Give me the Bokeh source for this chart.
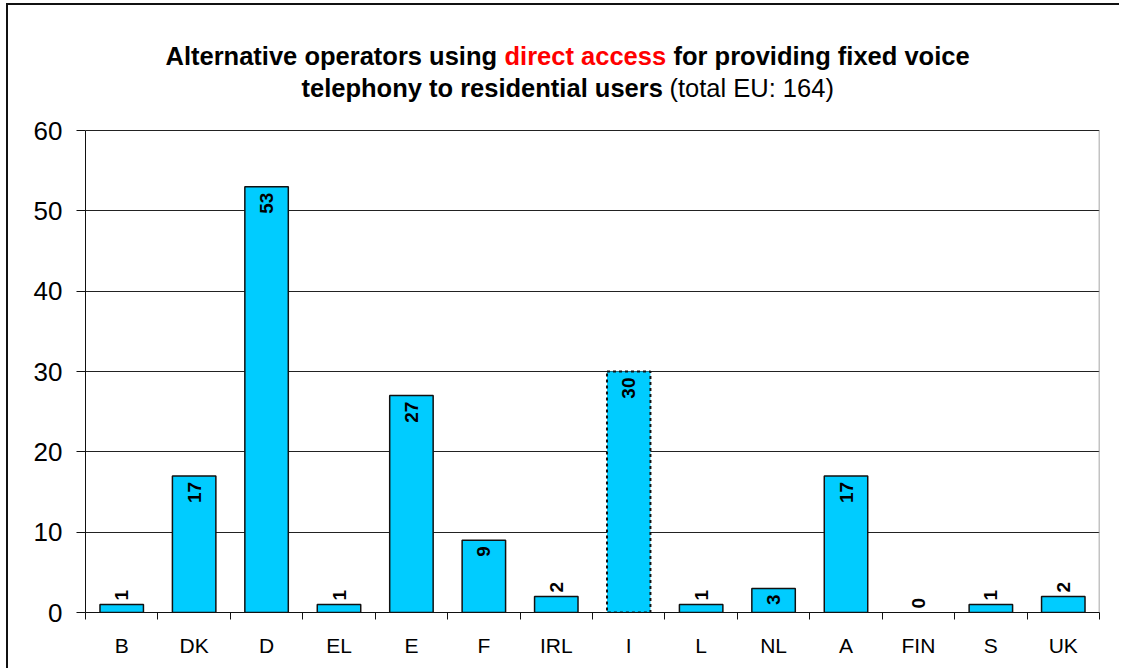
from math import pi
from bokeh.plotting import figure
from bokeh.models import ColumnDataSource, FixedTicker, Label, Range1d
from bokeh.core.properties import value
from bokeh.embed import file_html
from bokeh.resources import INLINE

# ---- data ----
countries = ["B", "DK", "D", "EL", "E", "F", "IRL", "I", "L", "NL", "A", "FIN", "S", "UK"]
operators = [1, 17, 53, 1, 27, 9, 2, 30, 1, 3, 17, 0, 1, 2]
dotted_outline = ["I"]
y_ticks = [0, 10, 20, 30, 40, 50, 60]
title_line1 = [("Alternative operators using ", "black", "bold"),
               ("direct access", "#FF0000", "bold"),
               (" for providing fixed voice", "black", "bold")]
title_line2 = [("telephony to residential users ", "black", "bold"),
               ("(total EU: 164)", "black", "normal")]

# ---- layout (page pixels) ----
FRAME_L, FRAME_R = 85, 1099      # plot area left / right
FRAME_B, Y_MAX_PIX = 612, 130    # y=0 and y=60 rows
FRAME_T = 10                     # top of drawing frame (title lives above y=60)
Y_MAX = y_ticks[-1]
N = len(countries)
px_per_y = (FRAME_B - Y_MAX_PIX) / Y_MAX
y_top = (FRAME_B - FRAME_T) / px_per_y


def dx(px):
    return (px - FRAME_L) / (FRAME_R - FRAME_L) * N


def dy(py):
    return (FRAME_B - py) / px_per_y


centers = [i + 0.5 for i in range(N)]
bounds = list(range(N + 1))

solid = ColumnDataSource(dict(
    x=[c for c, n, v in zip(centers, countries, operators) if n not in dotted_outline and v > 0],
    top=[v for n, v in zip(countries, operators) if n not in dotted_outline and v > 0]))
dotted = ColumnDataSource(dict(
    x=[c for c, n, v in zip(centers, countries, operators) if n in dotted_outline and v > 0],
    top=[v for n, v in zip(countries, operators) if n in dotted_outline and v > 0]))

inside = ColumnDataSource(dict(
    x=[c for c, v in zip(centers, operators) if v >= 3],
    y=[v for v in operators if v >= 3],
    t=[str(v) for v in operators if v >= 3]))
above = ColumnDataSource(dict(
    x=[c for c, v in zip(centers, operators) if v < 3],
    y=[v for v in operators if v < 3],
    t=[str(v) for v in operators if v < 3]))

OFF_X, OFF_Y = 8, 5   # canvas origin on page (after margin + border)
p = figure(width=1113, height=665, x_range=Range1d(0, N), y_range=Range1d(0, y_top),
           output_backend="svg", toolbar_location=None,
           min_border_left=FRAME_L - OFF_X, min_border_right=1113 - (FRAME_R - OFF_X),
           min_border_top=FRAME_T - OFF_Y, min_border_bottom=665 - (FRAME_B - OFF_Y))
p.styles = {"border-left": "2px solid #111", "border-top": "2px solid #111",
            "margin-left": "6px", "margin-top": "3px"}

BAR = "#00CCFF"
p.vbar(x="x", top="top", bottom=0, width=0.6, source=solid, fill_color=BAR,
       line_color="#111", line_width=1.5)
p.vbar(x="x", top="top", bottom=0, width=0.6, source=dotted, fill_color=BAR,
       line_color="#111", line_width=2, line_dash="3 3")

p.text(x="x", y="y", text="t", source=inside, angle=pi / 2, text_align="right",
       text_baseline="middle", y_offset=6, text_font=value("Liberation Sans"),
       text_font_style="bold", text_font_size="19px", text_color="black")
p.text(x="x", y="y", text="t", source=above, angle=pi / 2, text_align="left",
       text_baseline="middle", y_offset=-4, text_font=value("Liberation Sans"),
       text_font_style="bold", text_font_size="19px", text_color="black")

# right edge of the value area
p.segment(x0=[N], y0=[0], x1=[N], y1=[Y_MAX], line_color="#888", line_width=1.5)

# axes
p.outline_line_color = None
p.xgrid.visible = False
p.ygrid.grid_line_color = "#222"
p.ygrid.grid_line_width = 1

p.yaxis.ticker = FixedTicker(ticks=y_ticks)
p.yaxis.bounds = (0, Y_MAX)
p.yaxis.axis_line_color = "#111"
p.yaxis.major_tick_in = 0
p.yaxis.major_tick_out = 9
p.yaxis.major_tick_line_color = "#111"
p.yaxis.minor_tick_line_color = None
p.yaxis.major_label_text_font = "Liberation Sans"
p.yaxis.major_label_text_font_size = "26px"
p.yaxis.major_label_text_color = "black"
p.yaxis.major_label_standoff = 14

p.xaxis.ticker = FixedTicker(ticks=centers, minor_ticks=bounds)
p.xaxis.major_label_overrides = {c: n for c, n in zip(centers, countries)}
p.xaxis.axis_line_color = "#111"
p.xaxis.major_tick_in = 0
p.xaxis.major_tick_out = 0
p.xaxis.minor_tick_in = 0
p.xaxis.minor_tick_out = 7
p.xaxis.minor_tick_line_color = "#111"
p.xaxis.major_label_text_font = "Liberation Sans"
p.xaxis.major_label_text_font_size = "21px"
p.xaxis.major_label_text_color = "black"
p.xaxis.major_label_standoff = 14

# title (mixed styles), runs placed left to right
TF = "Liberation Sans"
TSIZE = 25.5
run_x = {0: [165, 504, 673], 1: [301, 669]}
for li, (line, base) in enumerate([(title_line1, 55), (title_line2, 87)]):
    for (txt, col, style), sx in zip(line, run_x[li]):
        p.add_layout(Label(x=dx(sx), y=dy(base), text=txt.strip(),
                           text_font=TF, text_font_style=style, text_font_size=f"{TSIZE}px",
                           text_color=col, text_baseline="alphabetic", text_align="left"))

open("out.html", "w").write(file_html(p, INLINE))
